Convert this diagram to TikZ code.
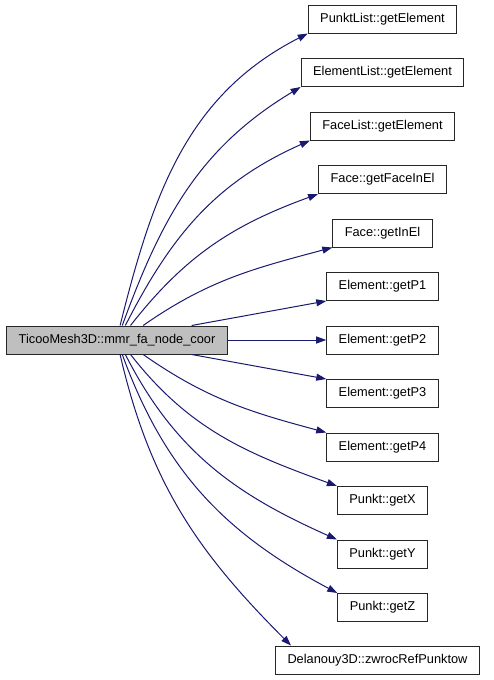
\documentclass[tikz,border=0pt]{standalone}
\usepackage{fontspec}
\setmainfont{Liberation Sans}
\usetikzlibrary{arrows.meta}
\definecolor{edgeblue}{HTML}{191970}
\tikzset{%
    fn/.style={draw=black!85,line width=1pt,minimum height=28pt,inner xsep=12pt,font=\fontsize{12.8}{15}\selectfont},
    call/.style={draw=edgeblue,line width=1pt,-{Triangle[length=10pt,width=7pt,fill=edgeblue]}}
}

\begin{document}
\begin{tikzpicture}[x=1pt,y=1pt]
        \useasboundingbox (0,0) rectangle (493,-680);
        \node[fn,fill=black!25] (m) at (117,-340){TicooMesh3D::mmr\_fa\_node\_coor};

        \node[fn] (pl) at (382.5,-19){PunktList::getElement};
        \node[fn] (el) at (382.5,-72.5){ElementList::getElement};
        \node[fn] (fl) at (382.5,-126){FaceList::getElement};
        \node[fn] (gf) at (382.5,-179.5){Face::getFaceInEl};
        \node[fn] (gi) at (382.5,-233){Face::getInEl};
        \node[fn] (p1) at (382.5,-286.5){Element::getP1};
        \node[fn] (p2) at (382.5,-340){Element::getP2};
        \node[fn] (p3) at (382.5,-393.5){Element::getP3};
        \node[fn] (p4) at (382.5,-447){Element::getP4};
        \node[fn] (px) at (382.5,-500.5){Punkt::getX};
        \node[fn] (py) at (382.5,-554){Punkt::getY};
        \node[fn] (pz) at (382.5,-607.5){Punkt::getZ};
        \node[fn] (dr) at (377.5,-660){Delanouy3D::zwrocRefPunktow};

        \draw[call] (m.78) to[out=76,in=207] (pl.south west);
        \draw[call] (m.70) to[out=70,in=211] (el.south west);
        \draw[call] (m.60) to[out=63,in=204] (fl.south west);
        \draw[call] (m.47) to[out=52,in=200] (gf.south west);
        \draw[call] (m.29) to[out=35,in=195] (gi.south west);
        \draw[call] (m.11) -- (p1.south west);
        \draw[call] (m.east) -- (p2.west);
        \draw[call] (m.-11) -- (p3.north west);
        \draw[call] (m.-29) to[out=-35,in=165] (p4.north west);
        \draw[call] (m.-47) to[out=-52,in=160] (px.north west);
        \draw[call] (m.-60) to[out=-63,in=156] (py.north west);
        \draw[call] (m.-70) to[out=-70,in=152] (pz.north west);
        \draw[call] (m.-78) to[out=-77,in=135] ([xshift=16pt]dr.north west);
    \end{tikzpicture}
\end{document}
